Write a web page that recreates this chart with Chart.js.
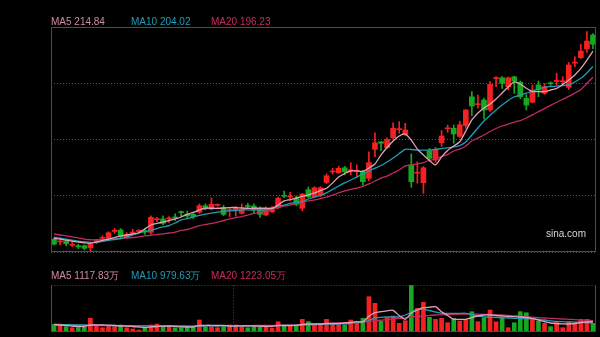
<!DOCTYPE html>
<html lang="zh">
<head>
<meta charset="UTF-8">
<title>日K线</title>
<style>
  body {
    margin: 0;
    width: 600px;
    height: 337px;
    background: #000;
    position: relative;
    overflow: hidden;
    font-family: Arial, "Liberation Sans", sans-serif;
  }
  #kline { position: absolute; left: 0; top: 0; }
  #vol { position: absolute; left: 0; top: 280px; }
  .lbl {
    position: absolute;
    font-size: 10px;
    line-height: 10px;
    white-space: nowrap;
  }
  .ma5 { color: #cc8ba3; }
  .ma10 { color: #1f9db5; }
  .ma20 { color: #c92a62; }
  #brand { left: 546px; top: 229px; color: #d8d8d8; }
</style>
<script src="https://cdn.jsdelivr.net/npm/chart.js"></script>
</head>
<body>
<canvas id="kline" width="600" height="256"></canvas>
<canvas id="vol" width="600" height="57"></canvas>

<div class="lbl ma5" id="tMa5" style="left:51px; top:17px;"></div>
<div class="lbl ma10" id="tMa10" style="left:131px; top:17px;"></div>
<div class="lbl ma20" id="tMa20" style="left:211px; top:17px;"></div>
<div class="lbl ma5" id="tVma5" style="left:51px; top:271px;"></div>
<div class="lbl ma10" id="tVma10" style="left:131px; top:271px;"></div>
<div class="lbl ma20" id="tVma20" style="left:211px; top:271px;"></div>
<div class="lbl" id="brand">sina.com</div>

<script>
// daily candles (price)
const openP = [81.0, 79.2, 79.8, 76.8, 76.5, 76.5, 75.0, 79.2, 81.7, 81.7,
  86.6, 87.6, 82.2, 85.4, 86.6, 86.9, 86.0, 95.0, 95.5, 95.6,
  96.9, 100.6, 99.0, 98.8, 100.2, 104.9, 102.6, 105.2, 103.5, 101.5,
  101.3, 99.5, 104.9, 104.7, 102.4, 98.3, 100.6, 103.5, 112.1, 111.0,
  110.2, 103.1, 116.3, 111.3, 112.5, 121.5, 128.9, 128.4, 131.9, 129.8,
  129.3, 129.1, 124.4, 145.0, 150.4, 146.2, 153.3, 159.0, 155.7, 133.9,
  128.0, 121.3, 144.0, 137.4, 149.7, 159.6, 160.0, 154.2, 161.8, 182.4,
  176.8, 180.1, 173.0, 195.3, 195.9, 189.5, 196.6, 192.7, 181.3, 178.5,
  190.8, 184.9, 192.2, 193.3, 193.1, 189.1, 206.3, 210.2, 216.4, 226.3];
const highP = [82.0, 81.9, 80.5, 79.8, 77.5, 77.0, 78.0, 81.0, 83.5, 86.4,
  88.8, 88.7, 85.8, 88.1, 87.9, 88.8, 97.8, 96.7, 97.8, 97.1,
  99.2, 101.2, 101.0, 100.6, 106.2, 106.2, 110.4, 106.2, 105.2, 103.1,
  104.5, 106.2, 106.6, 106.2, 104.2, 104.2, 104.4, 111.0, 115.4, 114.4,
  111.9, 113.6, 118.2, 118.4, 118.5, 127.6, 131.5, 133.0, 132.9, 135.5,
  133.9, 130.0, 143.3, 156.8, 150.6, 153.2, 163.9, 164.7, 163.5, 141.7,
  136.2, 132.8, 145.7, 146.4, 158.3, 162.3, 162.3, 165.0, 173.4, 186.0,
  183.6, 181.5, 193.1, 196.7, 196.7, 196.4, 197.0, 193.6, 183.9, 190.8,
  193.6, 191.9, 193.0, 199.1, 196.7, 206.8, 210.9, 219.7, 228.7, 227.4];
const lowP = [77.0, 77.0, 76.3, 75.9, 74.5, 73.5, 72.2, 78.0, 80.5, 81.0,
  85.3, 81.4, 81.8, 84.6, 86.0, 84.5, 84.6, 93.5, 91.4, 93.1,
  94.5, 97.1, 96.5, 95.8, 99.5, 101.9, 101.9, 104.6, 97.8, 97.1,
  97.5, 98.8, 103.1, 99.5, 96.6, 97.8, 99.9, 102.8, 110.5, 108.5,
  104.9, 101.2, 110.6, 110.6, 111.5, 120.6, 127.4, 127.8, 126.8, 126.8,
  125.1, 119.6, 122.7, 139.8, 144.0, 145.9, 152.3, 156.4, 154.9, 118.0,
  120.9, 113.7, 136.8, 135.8, 147.1, 157.1, 149.3, 153.5, 159.9, 168.9,
  174.2, 166.6, 172.0, 189.5, 188.4, 187.2, 184.8, 181.0, 173.0, 178.1,
  182.4, 184.1, 190.5, 190.8, 190.8, 187.5, 203.8, 209.6, 214.0, 216.4];
const closeP = [77.5, 79.8, 77.9, 77.4, 75.6, 74.6, 77.5, 80.0, 82.2, 85.7,
  87.5, 82.9, 84.6, 86.2, 87.2, 86.2, 96.7, 95.6, 92.4, 96.2,
  96.2, 100.0, 97.6, 97.1, 104.9, 103.1, 105.9, 105.6, 98.8, 102.2,
  103.8, 102.4, 104.4, 101.9, 98.8, 103.1, 103.5, 110.2, 111.6, 111.7,
  105.9, 113.2, 111.3, 117.7, 117.7, 126.2, 129.4, 131.5, 129.1, 130.3,
  129.8, 122.0, 135.5, 149.7, 149.3, 152.1, 160.0, 159.5, 158.8, 122.0,
  128.6, 131.9, 138.6, 145.0, 154.5, 160.1, 155.9, 162.5, 173.0, 175.8,
  177.4, 173.0, 191.2, 195.9, 191.9, 195.9, 193.6, 182.4, 176.5, 187.2,
  187.2, 189.5, 191.6, 193.9, 193.8, 205.0, 207.0, 214.9, 222.0, 219.7];

// moving averages of price
const ma5 = [81.7, 81.2, 80.5, 79.8, 79.1, 78.5, 78.2, 79.1, 80.2, 81.2,
  82.3, 83.4, 84.1, 84.8, 85.7, 88.4, 91.2, 92.3, 93.3, 94.4,
  95.5, 96.9, 98.7, 100.1, 101.9, 103.1, 103.1, 103.1, 103.3, 103.6,
  103.6, 103.3, 103.1, 103.1, 103.1, 103.1, 103.1, 105.4, 108.3, 109.3,
  110.4, 111.5, 112.5, 114.0, 115.7, 117.3, 121.1, 125.3, 127.8, 129.6,
  129.6, 129.3, 131.7, 134.6, 141.0, 146.3, 150.9, 154.5, 155.9, 151.6,
  145.2, 141.0, 137.1, 133.9, 139.6, 144.2, 147.4, 150.4, 158.0, 165.9,
  170.8, 174.4, 177.2, 180.8, 185.1, 189.3, 192.9, 191.5, 188.4, 186.1,
  186.0, 186.0, 187.2, 188.3, 191.1, 194.3, 197.9, 202.6, 208.5, 214.84];
const ma10 = [82.5, 81.8, 81.2, 80.5, 79.8, 79.3, 78.8, 78.8, 79.5, 80.2,
  80.9, 81.6, 82.7, 84.1, 85.5, 86.6, 87.6, 88.7, 89.8, 90.8,
  92.6, 94.8, 95.8, 96.9, 98.0, 99.0, 99.7, 100.4, 100.8, 101.2,
  101.5, 101.9, 101.9, 101.9, 101.9, 101.9, 102.6, 104.7, 105.4, 106.5,
  107.2, 107.9, 109.7, 111.1, 112.2, 114.0, 116.5, 118.9, 121.1, 123.2,
  125.3, 127.5, 129.6, 131.7, 133.5, 136.0, 138.8, 142.0, 145.0, 144.9,
  144.5, 144.5, 144.5, 144.9, 145.6, 146.0, 146.7, 147.7, 150.2, 155.2,
  160.2, 165.2, 169.1, 173.0, 176.5, 179.7, 182.4, 183.6, 184.9, 186.5,
  187.9, 189.3, 189.7, 190.0, 190.4, 190.8, 192.9, 195.5, 199.3, 204.02];
const ma20 = [84.8, 84.1, 83.4, 82.7, 82.0, 81.2, 80.7, 80.7, 80.9, 81.1,
  81.4, 81.6, 82.0, 82.3, 82.8, 83.4, 83.9, 84.4, 84.9, 85.5,
  86.2, 87.3, 88.0, 89.4, 90.8, 91.6, 92.3, 93.3, 94.4, 95.5,
  96.5, 97.2, 98.3, 99.4, 100.4, 101.5, 102.6, 103.6, 104.7, 105.4,
  106.5, 107.2, 108.3, 109.0, 110.0, 111.1, 112.5, 114.0, 115.4, 116.5,
  117.5, 118.6, 120.4, 122.5, 124.6, 126.0, 128.2, 130.3, 133.2, 133.9,
  134.6, 135.6, 137.1, 138.1, 139.9, 141.3, 143.8, 145.2, 147.4, 150.9,
  153.1, 155.2, 157.7, 159.8, 161.6, 163.0, 164.4, 165.5, 167.3, 169.5,
  171.8, 174.0, 176.3, 178.5, 180.6, 182.7, 185.0, 187.6, 192.0, 196.23];

// volume, in 万 shares
const volume = [835, 651, 575, 467, 575, 575, 1486, 684, 467, 727,
  575, 760, 467, 326, 217, 401, 760, 868, 575, 510,
  467, 467, 510, 510, 1302, 575, 575, 467, 651, 760,
  760, 684, 467, 575, 651, 575, 401, 1118, 651, 651,
  651, 1378, 1118, 760, 760, 1378, 868, 868, 760, 1302,
  944, 1486, 3830, 3114, 1194, 1552, 1736, 944, 1226, 5100,
  2571, 3222, 1595, 1378, 1486, 1009, 1486, 1194, 1378, 2203,
  1118, 1486, 2387, 1118, 1595, 467, 1009, 2203, 2094, 1378,
  1194, 944, 575, 1009, 467, 1118, 944, 1378, 1378, 944];
const vma5 = [814, 760, 705, 651, 618, 597, 760, 781, 760, 738,
  705, 651, 629, 597, 543, 488, 543, 597, 629, 651,
  618, 564, 543, 543, 705, 727, 727, 705, 727, 651,
  651, 673, 673, 651, 629, 618, 597, 705, 705, 705,
  727, 814, 868, 868, 868, 922, 922, 944, 977, 1031,
  1118, 1100, 1700, 2094, 2200, 2300, 2350, 1780, 1378, 2050,
  2387, 2637, 2691, 2745, 2203, 1790, 1378, 1378, 1378, 1573,
  1736, 1845, 1845, 1790, 1736, 1682, 1660, 1628, 1573, 1486,
  1302, 1139, 977, 922, 890, 868, 922, 1031, 1085, 1117.83];
const vma10 = [835, 814, 792, 781, 760, 760, 738, 727, 716, 705,
  705, 694, 684, 673, 673, 662, 651, 651, 651, 640,
  640, 629, 618, 618, 640, 651, 662, 673, 684, 673,
  673, 673, 662, 662, 673, 673, 673, 694, 705, 716,
  727, 760, 781, 792, 814, 836, 857, 868, 890, 922,
  1009, 1085, 1248, 1519, 1595, 1628, 1628, 1649, 1845, 2170,
  2441, 2463, 2333, 2170, 2029, 2029, 2029, 2029, 2029, 1899,
  1736, 1628, 1595, 1573, 1541, 1519, 1486, 1465, 1432, 1411,
  1378, 1302, 1215, 1139, 1118, 1100, 1080, 1050, 1010, 979.63];
const vma20 = [727, 727, 738, 738, 727, 716, 716, 705, 705, 694,
  694, 694, 684, 684, 694, 694, 684, 673, 673, 673,
  673, 673, 662, 662, 662, 673, 673, 673, 684, 684,
  694, 694, 694, 705, 705, 705, 716, 727, 738, 749,
  760, 792, 825, 857, 890, 922, 955, 977, 1009, 1042,
  1074, 1107, 1139, 1215, 1280, 1345, 1411, 1476, 1541, 1628,
  1682, 1736, 1812, 1845, 1866, 1888, 1910, 1931, 1953, 1953,
  1931, 1910, 1888, 1866, 1845, 1801, 1758, 1714, 1660, 1606,
  1562, 1519, 1486, 1454, 1411, 1378, 1345, 1302, 1270, 1223.05];

const priceTicks = [72, 232];   // axis range of the price panel
const volumeTicks = [0, 5100];  // axis range of the volume panel
const monthBreak = 30;          // day index where the dotted separator sits

const UP = '#f52020';
const DOWN = '#16a820';
const C_MA5 = '#e0a0b8';
const C_MA10 = '#1f9db5';
const C_MA20 = '#c22a62';
const FRAME = '#4d4d4d';

const days = closeP.map((_, i) => i);
const candleColor = closeP.map((c, i) => c >= openP[i] ? UP : DOWN);

function maLine(data, color, order) {
  return {
    type: 'line',
    data: data,
    borderColor: color,
    borderWidth: 1.3,
    pointRadius: 0,
    tension: 0.2,
    order: order
  };
}

// draws the panel frames and the dotted separator
const framePlugin = {
  id: 'frame',
  afterDraw(chart, args, opts) {
    const { ctx, chartArea: a } = chart;
    const l = Math.round(a.left) + 0.5;
    const r = Math.round(a.right) - 0.5;
    const t = Math.round(a.top) + 0.5;
    const b = Math.round(a.bottom) - 0.5;
    ctx.save();
    ctx.strokeStyle = FRAME;
    ctx.lineWidth = 1;
    ctx.beginPath();
    ctx.moveTo(l, t); ctx.lineTo(l, b); ctx.lineTo(r, b); ctx.lineTo(r, t);
    if (!opts.dottedTop) ctx.lineTo(l, t);
    ctx.stroke();
    if (opts.dottedTop) {
      ctx.setLineDash([1, 2]);
      ctx.beginPath();
      ctx.moveTo(l, t); ctx.lineTo(r, t);
      const xs = chart.scales.x;
      const sx = Math.round((xs.getPixelForValue(monthBreak - 1) + xs.getPixelForValue(monthBreak)) / 2) + 0.5;
      ctx.moveTo(sx, t); ctx.lineTo(sx, b);
      ctx.stroke();
    }
    ctx.restore();
  }
};

function drawKline() {
  const ctx = document.getElementById('kline').getContext('2d');
  new Chart(ctx, {
    data: {
      labels: days,
      datasets: [
        maLine(ma5, C_MA5, 0),
        maLine(ma10, C_MA10, 0),
        maLine(ma20, C_MA20, 0),
        {
          type: 'bar',
          data: openP.map((o, i) => [o, closeP[i]]),
          backgroundColor: candleColor,
          barThickness: 5,
          minBarLength: 1,
          grouped: false,
          order: 1
        },
        {
          type: 'bar',
          data: lowP.map((l, i) => [l, highP[i]]),
          backgroundColor: candleColor,
          barThickness: 1,
          grouped: false,
          order: 2
        }
      ]
    },
    options: {
      responsive: false,
      animation: false,
      events: [],
      layout: { padding: { left: 51, right: 4, top: 27, bottom: 4 } },
      plugins: { legend: { display: false }, tooltip: { enabled: false }, frame: {} },
      scales: {
        x: { display: false, offset: true },
        y: {
          min: priceTicks[0],
          max: priceTicks[1],
          ticks: { display: false, stepSize: 40 },
          grid: { color: '#575757', drawTicks: false, tickLength: 0 },
          border: { display: false, dash: [1, 2] }
        }
      }
    },
    plugins: [framePlugin]
  });
}

function drawVolume() {
  const ctx = document.getElementById('vol').getContext('2d');
  new Chart(ctx, {
    data: {
      labels: days,
      datasets: [
        maLine(vma5, C_MA5, 0),
        maLine(vma10, C_MA10, 0),
        maLine(vma20, C_MA20, 0),
        {
          type: 'bar',
          data: volume,
          backgroundColor: candleColor,
          barThickness: 4,
          order: 1
        }
      ]
    },
    options: {
      responsive: false,
      animation: false,
      events: [],
      layout: { padding: { left: 51, right: 4, top: 5, bottom: 5 } },
      plugins: { legend: { display: false }, tooltip: { enabled: false }, frame: { dottedTop: true } },
      scales: {
        x: { display: false, offset: true },
        y: { display: false, min: volumeTicks[0], max: volumeTicks[1] }
      }
    },
    plugins: [framePlugin]
  });
}

function last(arr) { return arr[arr.length - 1].toFixed(2); }

document.getElementById('tMa5').textContent = 'MA5 ' + last(ma5);
document.getElementById('tMa10').textContent = 'MA10 ' + last(ma10);
document.getElementById('tMa20').textContent = 'MA20 ' + last(ma20);
document.getElementById('tVma5').textContent = 'MA5 ' + last(vma5) + '万';
document.getElementById('tVma10').textContent = 'MA10 ' + last(vma10) + '万';
document.getElementById('tVma20').textContent = 'MA20 ' + last(vma20) + '万';

drawKline();
drawVolume();
</script>
</body>
</html>
